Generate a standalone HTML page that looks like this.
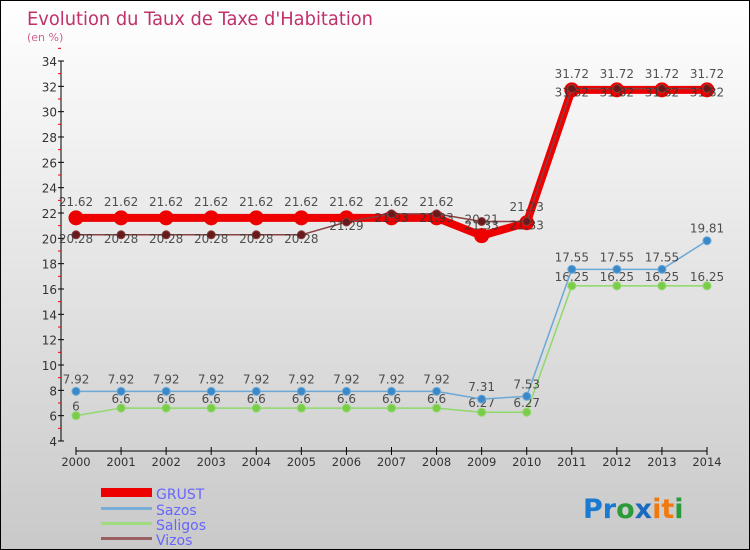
<!DOCTYPE html>
<html><head><meta charset="utf-8"><style>
body{margin:0}
#c{width:750px;height:550px;position:relative;box-sizing:border-box;border:1px solid #000;background:linear-gradient(#fff,#c9c9c9);font-family:"DejaVu Sans","Liberation Sans",sans-serif;overflow:hidden}
</style></head><body>
<div id="c">
<svg id="s" width="748" height="548" style="position:absolute;left:0;top:0">
<text x="26" y="24" font-size="19" fill="#c0306a" font-family="DejaVu Sans, sans-serif" textLength="346" lengthAdjust="spacingAndGlyphs">Evolution du Taux de Taxe d'Habitation</text>
<text x="26" y="40" font-size="11" fill="#d06090">(en %)</text>
<g id="axes"></g><g id="series"></g>
<g>
<rect x="100" y="487" width="51" height="9" fill="#e00"/>
<text x="155" y="498" font-size="14" fill="#6666ff">GRUST</text>
<rect x="100" y="506" width="51" height="3" fill="#7aaed6"/>
<text x="155" y="514" font-size="14" fill="#6666ff">Sazos</text>
<rect x="100" y="521" width="51" height="3" fill="#9fdc7e"/>
<text x="155" y="529" font-size="14" fill="#6666ff">Saligos</text>
<rect x="100" y="536" width="51" height="3" fill="#9a6060"/>
<text x="155" y="544" font-size="14" fill="#6666ff">Vizos</text>
</g>
<text x="582" y="517" font-size="27" font-weight="bold"><tspan fill="#1a7ad0">Pr</tspan><tspan fill="#2a9a3a">o</tspan><tspan fill="#1a6ac0">x</tspan><tspan fill="#f07a10">it</tspan><tspan fill="#2a9a3a">i</tspan></text>
</svg>
</div>
<script>
const years=[2000,2001,2002,2003,2004,2005,2006,2007,2008,2009,2010,2011,2012,2013,2014];
const grust=[21.62,21.62,21.62,21.62,21.62,21.62,21.62,21.62,21.62,20.21,21.23,31.72,31.72,31.72,31.72];
const sazos=[7.92,7.92,7.92,7.92,7.92,7.92,7.92,7.92,7.92,7.31,7.53,17.55,17.55,17.55,19.81];
const saligos=[6,6.6,6.6,6.6,6.6,6.6,6.6,6.6,6.6,6.27,6.27,16.25,16.25,16.25,16.25];
const vizos=[20.28,20.28,20.28,20.28,20.28,20.28,21.29,21.93,21.93,21.33,21.33,31.82,31.82,31.82,31.82];
const yTicks=[4,6,8,10,12,14,16,18,20,22,24,26,28,30,32,34];
const NS="http://www.w3.org/2000/svg";
const X=i=>75+i*(706-75)/(years.length-1);
const Y=v=>440-(v-4)*(380/30);
function mk(t,a,p){const e=document.createElementNS(NS,t);for(const k in a)e.setAttribute(k,a[k]);p.appendChild(e);return e;}
const ax=document.getElementById('axes'),sg=document.getElementById('series');
const yl=mk('line',{x1:60,y1:Y(34),x2:60,y2:440,stroke:'#000','stroke-width':1},ax);


yTicks.forEach(v=>{
 mk('line',{x1:57,x2:63,y1:Y(v),y2:Y(v),stroke:'#000'},ax);
 mk('line',{x1:57,x2:60,y1:Y(v+1),y2:Y(v+1),stroke:'#e00'},ax);
 const t=mk('text',{x:56,y:Y(v)+5,'font-size':12,'text-anchor':'end',fill:'#333'},ax);t.textContent=v;
 
 
});
const xl=mk('line',{x1:75,y1:450,x2:706,y2:450,stroke:'#000'},ax);


years.forEach((y,i)=>{
 mk('line',{x1:X(i),x2:X(i),y1:446,y2:454,stroke:'#000'},ax);
 const t=mk('text',{x:X(i),y:465,'font-size':11.5,'text-anchor':'middle',fill:'#333'},ax);t.textContent=y;
 
 
});
function series(d,name,col,w,r,fill,lab,dy){
 const g=mk('g',{},sg);
 
 
 mk('polyline',{points:d.map((v,i)=>X(i)+','+Y(v)).join(' '),fill:'none',stroke:col,'stroke-width':w,'stroke-linejoin':'round'},g);
 d.forEach((v,i)=>{
  const c=mk('circle',{cx:X(i),cy:Y(v),r:r,fill:fill,stroke:col,'stroke-width':1},g);
  
  
  const t=mk('text',{x:X(i),y:Y(v)+dy,'font-size':12,'text-anchor':'middle',fill:'#333',opacity:0.85},g);t.textContent=v;
  
  
 });
}
series(saligos,'saligos','#8fd86a',1.5,4,'#7ccc4c',1,-5);
series(sazos,'sazos','#6aa8d8',1.5,4,'#3a88c8',1,-8);
series(grust,'grust','#e00',8,7,'#e00',1,-12);
series(vizos,'vizos','#8a4040',1.5,4,'#6a1a1a',1,8);
</script>
</body></html>
